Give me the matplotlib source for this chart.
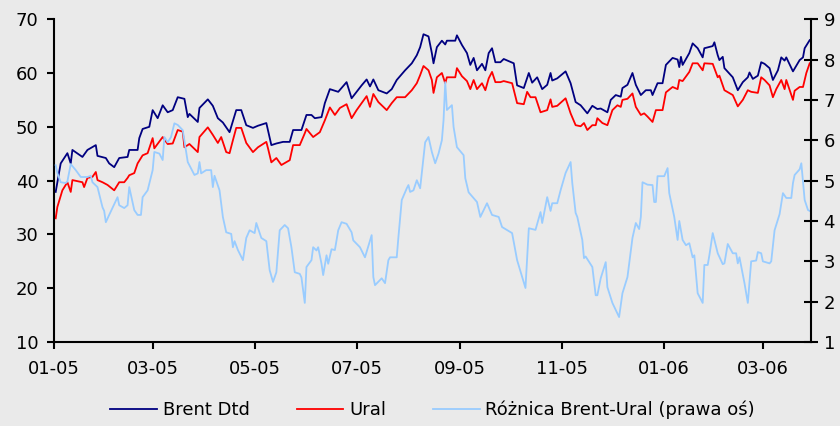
import numpy as np
import pandas as pd
import matplotlib
matplotlib.use("Agg")
import matplotlib.pyplot as plt
import matplotlib.dates as mdates

# days counted from 2005-01-01
brent_day = [1, 4, 8, 10, 11, 17, 20, 25, 26, 31, 33, 36, 39, 44, 45, 50, 51, 53, 57, 59,
             62, 65, 68, 71, 74, 78, 80, 81, 86, 87, 92, 95, 98, 101, 105, 109, 112, 115, 119, 122,
             127, 130, 133, 137, 141, 143, 148, 151, 154, 156, 160, 162, 165, 170, 175, 178, 184, 187, 189, 191,
             194, 199, 202, 205, 210, 214, 217, 219, 221, 224, 226, 227, 229, 232, 234, 235, 240, 241, 244, 247,
             249, 251, 253, 256, 258, 260, 262, 264, 267, 269, 275, 277, 281, 284, 286, 289, 292, 295, 297, 298,
             301, 306, 309, 312, 315, 319, 322, 325, 327, 331, 333, 336, 339, 340, 343, 346, 348, 351, 354, 357,
             358, 361, 364, 366, 370, 373, 374, 375, 376, 380, 382, 385, 388, 389, 394, 395, 397, 398, 400, 401,
             406, 409, 412, 415, 416, 418, 421, 423, 425, 428, 430, 433, 435, 437, 438, 442, 446, 448, 449, 452]
brent = [37.9, 43.2, 45.1, 43.2, 45.7, 44.4, 45.7, 46.6, 44.6, 44.2, 43.2, 42.5, 44.2, 44.4, 45.7, 45.7, 47.9, 49.6, 50.0, 53.1,
         51.6, 54.0, 52.7, 53.1, 55.5, 55.2, 51.8, 52.4, 50.9, 53.5, 55.1, 53.9, 51.6, 50.8, 49.0, 53.1, 53.1, 50.3, 49.8, 50.2,
         50.7, 46.6, 46.9, 47.2, 47.2, 49.4, 49.4, 52.2, 52.2, 51.6, 51.8, 54.4, 57.0, 56.5, 58.3, 55.3, 57.7, 58.8, 57.5, 58.8,
         56.8, 56.2, 57.0, 58.7, 60.5, 61.8, 63.3, 64.8, 67.2, 66.8, 63.7, 61.8, 64.8, 66.0, 65.3, 66.0, 66.0, 67.0, 65.2, 63.7,
         61.5, 62.8, 60.5, 61.7, 60.5, 63.7, 64.6, 62.0, 62.0, 62.6, 61.8, 57.7, 57.2, 60.0, 58.2, 59.2, 57.0, 57.8, 60.0, 58.6,
         59.0, 60.3, 58.1, 54.6, 54.0, 52.5, 53.9, 53.3, 53.4, 52.7, 55.0, 55.9, 55.6, 57.2, 57.8, 60.0, 57.8, 55.9, 56.8, 56.8,
         55.9, 58.1, 58.1, 61.5, 62.8, 62.5, 61.1, 63.0, 61.5, 63.7, 65.5, 64.6, 62.9, 64.6, 65.0, 65.7, 63.3, 62.4, 63.0, 60.9,
         59.2, 56.8, 58.3, 59.2, 60.1, 58.9, 59.5, 62.0, 61.7, 60.9, 58.7, 60.5, 62.9, 62.3, 62.9, 60.3, 62.4, 62.9, 64.6, 66.1]

ural_day = [1, 2, 5, 8, 10, 11, 17, 18, 20, 23, 25, 26, 29, 32, 36, 39, 42, 44, 45, 48,
            50, 53, 56, 59, 60, 65, 68, 71, 74, 77, 78, 81, 86, 87, 92, 95, 98, 100, 103, 105,
            107, 109, 112, 115, 119, 122, 127, 128, 130, 133, 136, 141, 143, 147, 150, 151, 155, 159, 162, 165,
            168, 171, 175, 178, 181, 184, 187, 189, 191, 194, 199, 202, 205, 210, 214, 217, 219, 221, 224, 226,
            227, 229, 232, 234, 235, 240, 241, 244, 247, 249, 251, 253, 256, 258, 260, 262, 264, 267, 269, 274,
            277, 281, 283, 285, 288, 291, 295, 297, 298, 301, 306, 309, 312, 315, 317, 319, 322, 324, 325, 328,
            331, 334, 337, 339, 340, 343, 346, 348, 351, 353, 355, 358, 360, 364, 366, 370, 373, 374, 376, 380,
            382, 385, 388, 389, 394, 397, 398, 401, 406, 409, 412, 415, 417, 421, 423, 425, 428, 430, 432, 435,
            437, 438, 442, 443, 446, 448, 450, 452]
ural = [33.0, 35.1, 38.2, 39.7, 37.9, 40.1, 39.7, 38.8, 40.5, 40.7, 41.6, 40.1, 39.7, 39.2, 38.2, 39.7, 39.7, 40.5, 41.0, 41.4,
        43.2, 44.7, 45.1, 47.9, 46.0, 48.1, 46.8, 46.9, 49.4, 49.1, 46.2, 46.8, 45.3, 48.1, 49.9, 48.5, 47.0, 48.1, 45.3, 45.1,
        47.5, 49.8, 49.8, 47.0, 45.3, 46.2, 47.2, 46.0, 43.4, 44.2, 42.9, 43.8, 46.6, 46.6, 48.8, 49.6, 48.1, 49.0, 51.2, 53.6,
        52.2, 53.5, 54.2, 51.6, 53.1, 54.4, 55.7, 53.7, 56.1, 54.6, 53.1, 54.4, 55.5, 55.5, 56.8, 58.1, 59.6, 61.3, 60.5, 58.7,
        56.3, 59.2, 60.0, 58.1, 59.2, 59.2, 60.9, 59.4, 58.5, 57.0, 58.7, 57.0, 58.1, 56.8, 59.0, 60.2, 58.3, 58.3, 58.5, 58.1,
        54.4, 54.2, 56.5, 55.5, 55.5, 52.7, 53.1, 55.1, 53.7, 53.9, 55.3, 52.5, 50.3, 50.1, 50.7, 49.4, 50.3, 50.3, 51.6, 50.7,
        50.3, 53.1, 54.0, 53.7, 55.0, 55.2, 56.2, 53.7, 52.2, 52.5, 51.9, 50.9, 53.1, 53.1, 56.4, 57.4, 57.0, 58.7, 58.5, 60.2,
        61.8, 61.8, 60.5, 61.8, 61.7, 59.2, 59.5, 56.8, 55.9, 53.8, 55.0, 56.8, 56.5, 56.3, 59.2, 58.7, 57.7, 55.5, 57.0, 58.7,
        57.0, 58.7, 55.0, 56.7, 57.4, 57.4, 60.0, 61.8]

spread_day = [1, 2, 4, 7, 8, 10, 13, 16, 20, 22, 23, 26, 29, 30, 31, 33, 38, 39, 42, 44,
              45, 48, 50, 52, 53, 56, 59, 60, 63, 65, 66, 68, 70, 72, 74, 77, 80, 81, 84, 86,
              87, 88, 91, 94, 95, 96, 99, 101, 103, 106, 107, 108, 110, 113, 115, 117, 120, 121, 124, 127,
              129, 131, 133, 135, 138, 140, 142, 144, 147, 148, 150, 151, 154, 155, 157, 158, 160, 161, 163, 164,
              166, 168, 170, 172, 175, 178, 179, 183, 186, 190, 191, 192, 196, 198, 200, 201, 205, 206, 208, 211,
              212, 213, 215, 217, 219, 220, 222, 224, 226, 228, 230, 232, 233, 234, 235, 238, 239, 241, 245, 246,
              248, 253, 255, 259, 262, 266, 268, 274, 277, 282, 284, 288, 291, 292, 295, 297, 298, 301, 303, 306,
              309, 310, 312, 313, 316, 317, 318, 322, 324, 325, 327, 330, 331, 334, 338, 340, 343, 346, 348, 350,
              351, 352, 355, 358, 359, 360, 361, 365, 367, 368, 371, 373, 374, 376, 378, 380, 382, 383, 385, 388,
              389, 391, 392, 394, 397, 400, 401, 403, 406, 408, 409, 410, 413, 415, 417, 420, 421, 423, 424, 428,
              429, 431, 434, 436, 438, 441, 442, 443, 446, 447, 449, 451, 452]
spread = [5.38, 5.19, 4.96, 4.94, 4.98, 5.41, 5.26, 5.09, 5.09, 5.12, 4.96, 4.84, 4.34, 4.25, 3.97, 4.15, 4.59, 4.39, 4.32, 4.39,
          4.84, 4.27, 4.15, 4.15, 4.59, 4.76, 5.26, 5.71, 5.67, 5.51, 6.08, 5.95, 6.08, 6.42, 6.38, 6.25, 5.46, 5.38, 5.14, 5.18,
          5.46, 5.18, 5.26, 5.26, 4.84, 5.12, 4.76, 4.10, 3.72, 3.68, 3.35, 3.50, 3.28, 3.03, 3.58, 3.77, 3.70, 3.95, 3.58, 3.50,
          2.78, 2.49, 2.73, 3.77, 3.90, 3.82, 3.35, 2.73, 2.69, 2.60, 1.97, 2.86, 3.03, 3.35, 3.27, 3.35, 2.94, 2.66, 3.15, 2.94,
          3.30, 3.28, 3.77, 3.97, 3.93, 3.72, 3.52, 3.35, 3.10, 3.65, 2.61, 2.41, 2.58, 2.46, 3.03, 3.10, 3.10, 3.60, 4.52, 4.81,
          4.89, 4.72, 4.76, 5.01, 4.81, 5.19, 5.95, 6.08, 5.71, 5.43, 5.67, 6.00, 6.50, 7.44, 6.75, 6.87, 6.33, 5.83, 5.63, 5.06,
          4.71, 4.47, 4.10, 4.44, 4.15, 4.10, 3.85, 3.70, 3.03, 2.34, 3.82, 3.78, 4.22, 3.95, 4.59, 4.25, 4.44, 4.44, 4.76, 5.19,
          5.46, 4.94, 4.20, 4.10, 3.53, 3.08, 3.12, 2.86, 2.16, 2.16, 2.58, 2.98, 2.36, 1.97, 1.62, 2.21, 2.61, 3.58, 3.95, 3.80,
          4.10, 4.96, 4.90, 4.89, 4.47, 4.47, 5.11, 5.11, 5.31, 4.69, 4.10, 3.53, 4.00, 3.53, 3.40, 3.45, 3.10, 3.15, 2.21, 1.97,
          2.91, 2.91, 3.15, 3.70, 3.20, 2.93, 2.95, 3.43, 3.20, 3.20, 2.95, 3.10, 2.46, 1.97, 3.00, 3.02, 3.23, 3.20, 3.00, 2.95,
          3.00, 3.77, 4.17, 4.69, 4.57, 4.57, 4.94, 5.14, 5.28, 5.43, 4.52, 4.27, 4.25]

start = pd.Timestamp("2005-01-01")
def to_dates(days):
    return start + pd.to_timedelta(days, unit="D")

bg = "#EAEAEA"
plt.rcParams["font.family"] = "DejaVu Sans"

fig = plt.figure(figsize=(8.4, 4.26), dpi=100, facecolor=bg)
ax = fig.add_axes([0.0643, 0.197, 0.9012, 0.758])
ax.set_facecolor(bg)
ax2 = ax.twinx()

l1, = ax.plot(to_dates(brent_day), brent, color="#000080", lw=1.3, label="Brent Dtd")
l2, = ax.plot(to_dates(ural_day), ural, color="#FF0000", lw=1.3, label="Ural")
l3, = ax2.plot(to_dates(spread_day), spread, color="#99CCFF", lw=1.3,
               label="Różnica Brent-Ural (prawa oś)")

ax.set_ylim(10, 70)
ax.set_yticks(range(10, 71, 10))
ax2.set_ylim(1, 9)
ax2.set_yticks(range(1, 10))
ax.set_xlim(start, start + pd.Timedelta(days=452.8))
ax.xaxis.set_major_locator(mdates.MonthLocator(bymonth=[1, 3, 5, 7, 9, 11]))
ax.xaxis.set_major_formatter(mdates.DateFormatter("%m-%y"))

for a in (ax, ax2):
    for s in a.spines.values():
        s.set_linewidth(1.5)
    a.spines["top"].set_visible(False)
ax.spines["right"].set_visible(False)
ax2.spines["left"].set_visible(False)
ax2.spines["bottom"].set_visible(False)

ax.tick_params(axis="y", direction="out", length=5, width=1.5, labelsize=13, pad=6)
ax.tick_params(axis="x", direction="out", length=5, width=1.5, labelsize=13, pad=8)
ax2.tick_params(axis="y", direction="inout", length=10, width=1.5, labelsize=13, pad=4)

fig.legend(handles=[l1, l2, l3], loc="center", bbox_to_anchor=(0.515, 0.038), ncol=3,
           frameon=False, fontsize=13, handlelength=2.6, handletextpad=0.3, columnspacing=2.6)

fig.savefig("out.png", dpi=100, facecolor=bg)
